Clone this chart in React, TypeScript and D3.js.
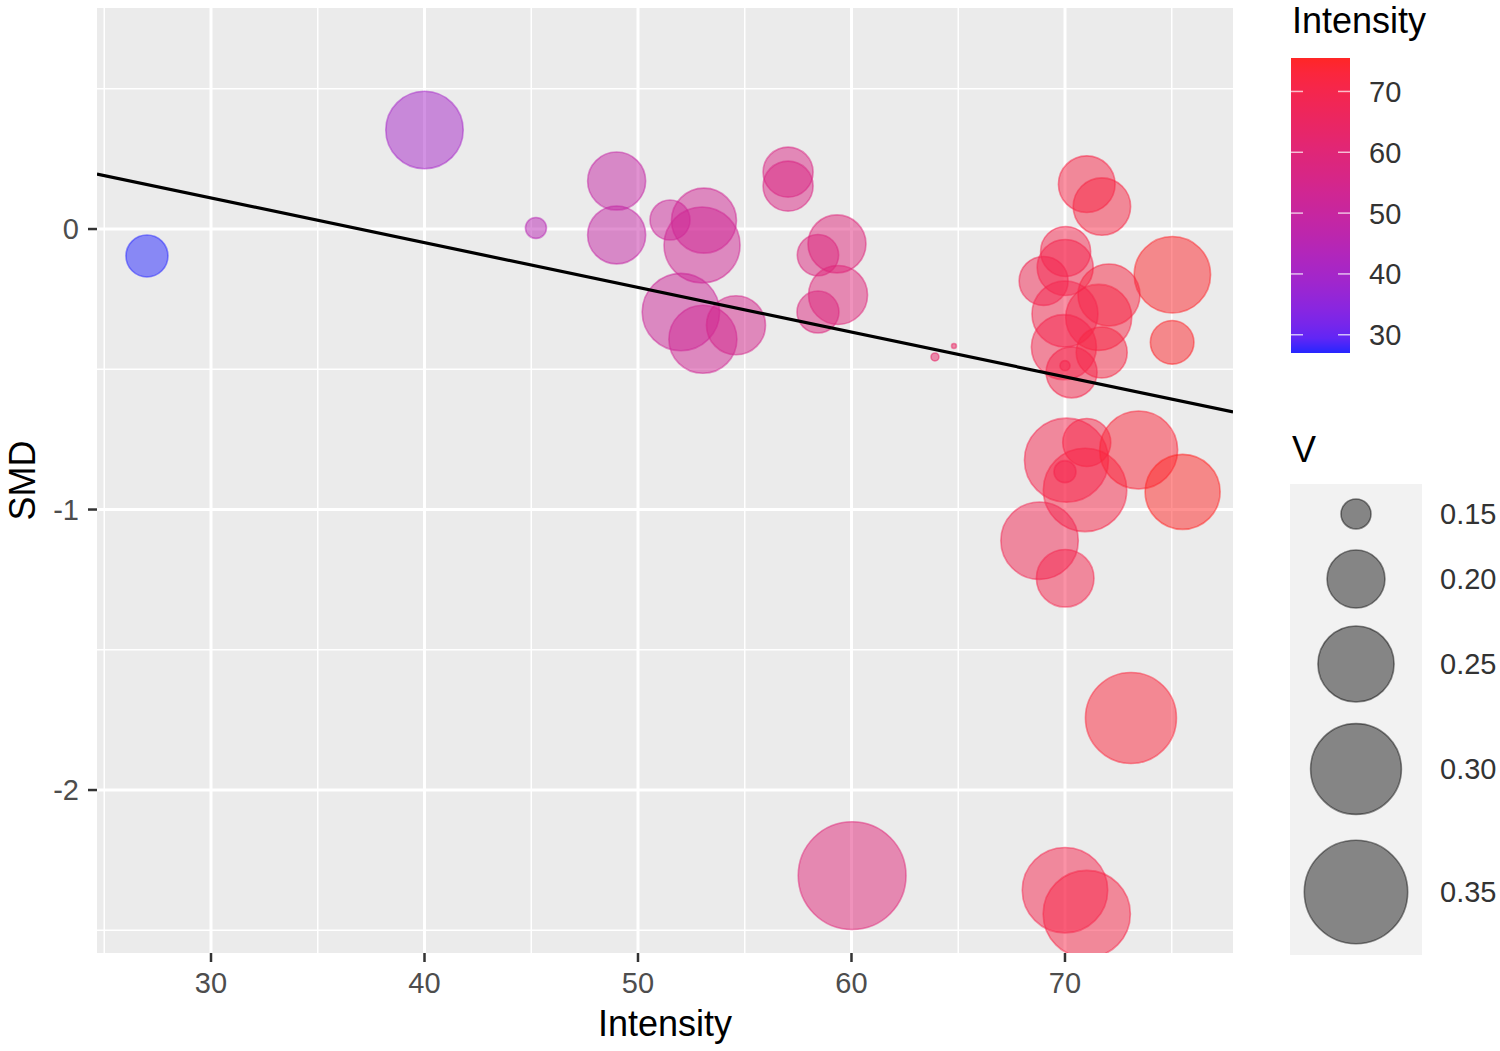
import React from "react";
import * as d3 from "d3";

// ---- data ----
const intensity = [27.0, 40.0, 45.22, 49.0, 49.0, 51.5, 53.09, 53.0, 52.01, 53.04, 54.59, 57.03, 57.03, 59.32, 58.43, 59.37, 58.43, 63.91, 64.8, 60.03, 70.0, 71.02, 71.02, 71.73, 75.03, 75.02, 70.03, 69.0, 70.01, 72.06, 71.58, 70.0, 69.95, 71.72, 70.31, 70.0, 70.07, 71.02, 70.94, 70.0, 73.45, 75.51, 68.81, 70.01, 73.09];
const smd = [-0.096, 0.353, 0.004, 0.171, -0.021, 0.032, 0.03, -0.057, -0.296, -0.393, -0.343, 0.203, 0.153, -0.053, -0.093, -0.235, -0.296, -0.456, -0.417, -2.305, -2.357, -2.442, 0.16, 0.08, -0.163, -0.404, -0.08, -0.185, -0.137, -0.235, -0.315, -0.303, -0.421, -0.44, -0.511, -0.487, -0.824, -0.761, -0.93, -0.865, -0.788, -0.937, -1.111, -1.245, -1.743];
const vValues = [0.1676, 0.254, 0.1406, 0.2003, 0.2003, 0.1643, 0.2179, 0.2496, 0.254, 0.2261, 0.2027, 0.1827, 0.1827, 0.2003, 0.1666, 0.2027, 0.1676, 0.1329, 0.1321, 0.369, 0.2806, 0.2869, 0.1971, 0.1989, 0.2508, 0.1704, 0.1827, 0.1806, 0.1957, 0.2101, 0.2206, 0.2206, 0.2179, 0.1847, 0.1847, 0.1337, 0.2757, 0.1787, 0.2737, 0.1415, 0.2559, 0.2465, 0.254, 0.1993, 0.3007];

const xTicks = [30, 40, 50, 60, 70];
const xMinor = [25, 35, 45, 55, 65, 75];
const yTicks = [0, -1, -2];
const yMinor = [0.5, -0.5, -1.5, -2.5];
const colorTicks = [30, 40, 50, 60, 70];
const sizeTicks = [0.15, 0.2, 0.25, 0.3, 0.35];
const colorDomain = [27.0, 75.5];
const fitIntercept = 0.589;
const fitSlope = -0.01594;

const FONT = "'Liberation Sans', Arial, Helvetica, sans-serif";

export default function App() {
  const W = 1500, H = 1051;
  const pL = 97, pR = 1233, pT = 8, pB = 953;
  const x = d3.scaleLinear().domain([24.66, 77.87]).range([pL, pR]);
  const y = d3.scaleLinear().domain([0.788, -2.581]).range([pT, pB]);
  const labCol = d3.scaleLinear<string>().domain(colorDomain).range(["blue", "red"]).interpolate(d3.interpolateLab);
  const col = (v: number) => d3.interpolateRgb(labCol(v), "#ffffff")(0.15);
  const area = d3.scaleLinear().domain([0.15, 0.35]).range([225, 2673]);
  const rad = (v: number) => Math.sqrt(Math.max(0, area(v)));

  const pts = intensity.map((xi, i) => ({ x: xi, y: smd[i], v: vValues[i] }));

  const line = d3.line<number>().x((d) => x(d)).y((d) => y(fitIntercept + fitSlope * d));
  const xDom = x.domain();

  // colorbar
  const cbX = 1291, cbW = 59, cbTop = 58, cbBot = 353;
  const cy = d3.scaleLinear().domain(colorDomain).range([cbBot, cbTop]);
  const stops = d3.range(0, 21).map((i) => i / 20);

  // size legend
  const sizeCenters = [514, 579, 664, 769, 892];
  const keyCx = 1356;

  return (
    <svg width={W} height={H} style={{ position: "absolute", left: 0, top: 0, background: "#fff" }} fontFamily={FONT}>
      <defs>
        <linearGradient id="cb" x1="0" y1="1" x2="0" y2="0">
          {stops.map((t) => (
            <stop key={t} offset={t} stopColor={col(colorDomain[0] + t * (colorDomain[1] - colorDomain[0]))} />
          ))}
        </linearGradient>
        <clipPath id="panel">
          <rect x={pL} y={pT} width={pR - pL} height={pB - pT} />
        </clipPath>
      </defs>
      <rect x={pL} y={pT} width={pR - pL} height={pB - pT} fill="#EBEBEB" />
      {xMinor.map((t) => (
        <line key={"xm" + t} x1={x(t)} x2={x(t)} y1={pT} y2={pB} stroke="#fff" strokeWidth={1.5} />
      ))}
      {yMinor.map((t) => (
        <line key={"ym" + t} y1={y(t)} y2={y(t)} x1={pL} x2={pR} stroke="#fff" strokeWidth={1.5} />
      ))}
      {xTicks.map((t) => (
        <line key={"xg" + t} x1={x(t)} x2={x(t)} y1={pT} y2={pB} stroke="#fff" strokeWidth={3} />
      ))}
      {yTicks.map((t) => (
        <line key={"yg" + t} y1={y(t)} y2={y(t)} x1={pL} x2={pR} stroke="#fff" strokeWidth={3} />
      ))}
      <g clipPath="url(#panel)">
        {pts.map((p, i) => (
          <circle
            key={i}
            cx={x(p.x)}
            cy={y(p.y)}
            r={rad(p.v)}
            fill={col(p.x)}
            fillOpacity={0.5}
            stroke={col(p.x)}
            strokeOpacity={0.5}
            strokeWidth={1.6}
          />
        ))}
        <path d={line([xDom[0], xDom[1]]) || ""} stroke="#000" strokeWidth={3.2} fill="none" />
      </g>
      {/* axes */}
      {xTicks.map((t) => (
        <g key={"xt" + t}>
          <line x1={x(t)} x2={x(t)} y1={pB} y2={pB + 9} stroke="#333" strokeWidth={2.5} />
          <text x={x(t)} y={993} textAnchor="middle" fontSize={29} fill="#4D4D4D">{t}</text>
        </g>
      ))}
      {yTicks.map((t) => (
        <g key={"yt" + t}>
          <line x1={pL - 9} x2={pL} y1={y(t)} y2={y(t)} stroke="#333" strokeWidth={2.5} />
          <text x={79} y={y(t)} dy="0.36em" textAnchor="end" fontSize={29} fill="#4D4D4D">{t}</text>
        </g>
      ))}
      <text x={(pL + pR) / 2} y={1036} textAnchor="middle" fontSize={36} fill="#000">Intensity</text>
      <text transform={`translate(35,${(pT + pB) / 2}) rotate(-90)`} textAnchor="middle" fontSize={36} fill="#000">SMD</text>

      {/* colour legend */}
      <text x={1292} y={33} fontSize={36} fill="#000">Intensity</text>
      <rect x={cbX} y={cbTop} width={cbW} height={cbBot - cbTop} fill="url(#cb)" />
      {colorTicks.map((t) => (
        <g key={"ct" + t}>
          <line x1={cbX} x2={cbX + 12} y1={cy(t)} y2={cy(t)} stroke="#fff" strokeOpacity={0.7} strokeWidth={1.5} />
          <line x1={cbX + cbW - 12} x2={cbX + cbW} y1={cy(t)} y2={cy(t)} stroke="#fff" strokeOpacity={0.7} strokeWidth={1.5} />
          <text x={1369} y={cy(t)} dy="0.36em" fontSize={29} fill="#333">{t}</text>
        </g>
      ))}

      {/* size legend */}
      <text x={1292} y={462} fontSize={36} fill="#000">V</text>
      <rect x={1290} y={484} width={132} height={471} fill="#F2F2F2" />
      {sizeTicks.map((t, i) => (
        <g key={"st" + t}>
          <circle cx={keyCx} cy={sizeCenters[i]} r={rad(t)} fill="#000" fillOpacity={0.45} stroke="#000" strokeOpacity={0.45} strokeWidth={1.6} />
          <text x={1440} y={sizeCenters[i]} dy="0.36em" fontSize={29} fill="#333">{t.toFixed(2)}</text>
        </g>
      ))}
    </svg>
  );
}
